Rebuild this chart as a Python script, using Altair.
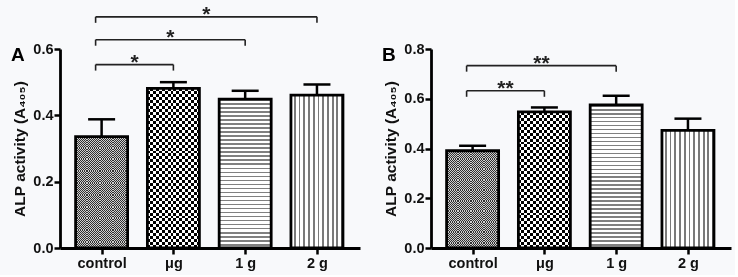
import altair as alt
import pandas as pd

# ---------------- data ----------------
cats = ["control", "μg", "1 g", "2 g"]
a_mean = [0.336, 0.481, 0.449, 0.461]
a_upper = [0.388, 0.500, 0.474, 0.493]
b_mean = [0.391, 0.547, 0.575, 0.473]
b_upper = [0.411, 0.565, 0.612, 0.520]

# significance brackets: (from index, to index, level, label)
a_from = [0, 0, 0]
a_to = [1, 2, 3]
a_level = [0.553, 0.628, 0.697]
a_star = ["*", "*", "*"]
b_from = [0, 0]
b_to = [1, 2]
b_level = [0.632, 0.733]
b_star = ["**", "**"]

FONT = "Liberation Sans"
PW, PH = 300, 199
BAR_W = 52
BG = "#f8f9fb"


def stripes(n, c1, c2, horizontal, frac=0.5):
    stops = []
    for i in range(n):
        a = i / n
        b = (i + frac) / n
        c = (i + 1) / n
        stops += [alt.GradientStop(offset=a, color=c1), alt.GradientStop(offset=b, color=c1),
                  alt.GradientStop(offset=b, color=c2), alt.GradientStop(offset=c, color=c2)]
    if horizontal:
        return alt.LinearGradient(gradient="linear", stops=stops, x1=0, x2=0, y1=0, y2=1)
    return alt.LinearGradient(gradient="linear", stops=stops, x1=0, x2=1, y1=0, y2=0)


def panel(means, uppers, bfrom, bto, blevel, bstar, ymax, letter):
    df = pd.DataFrame({"idx": list(range(len(cats))), "cat": cats, "mean": means, "upper": uppers})
    br = pd.DataFrame({"x1": bfrom, "x2": bto, "level": blevel, "star": bstar})
    xs = alt.Scale(domain=[-0.51, 3.53], nice=False, zero=False)
    ys = alt.Scale(domain=[0, ymax], nice=False)
    label_expr = "[" + ",".join("'" + c + "'" for c in cats) + "][datum.value]"
    xax = alt.Axis(values=list(range(len(cats))), labelExpr=label_expr, title=None, grid=False,
                   domainColor="black", domainWidth=2.8, tickColor="black", tickWidth=2.5,
                   tickSize=6, labelFont=FONT, labelFontWeight="bold", labelFontSize=14.5,
                   labelColor="#111111", labelPadding=2)
    yax = alt.Axis(values=[round(v * 0.2, 1) for v in range(int(round(ymax / 0.2)) + 1)],
                   format=".1f", title="ALP activity (A₄₀₅)", grid=False,
                   domainColor="black", domainWidth=2.8, tickColor="black", tickWidth=2.5,
                   tickSize=6, labelFont=FONT, labelFontWeight="bold", labelFontSize=14.5,
                   labelColor="#111111", labelPadding=1, titleFont=FONT, titleFontWeight="bold",
                   titleFontSize=15.5, titleColor="#111111", titlePadding=5)

    def XF(f):
        return alt.X(f, scale=xs, axis=xax)

    def YF(f):
        return alt.Y(f, scale=ys, axis=yax)

    base = alt.Chart(df)
    X = XF("idx:Q")
    Y = YF("mean:Q")

    def hpx(v):
        return v / ymax * PH

    layers = []
    # control: fine checker (dark / light grey) via two stripe layers and difference blend
    n_c = max(1, round(hpx(means[0]) / 2.2))
    layers.append(base.transform_filter(alt.datum.idx == 0)
                  .mark_bar(width=BAR_W, fill=stripes(n_c, "#303030", "#cfcfcf", True))
                  .encode(x=X, y=Y))
    layers.append(base.transform_filter(alt.datum.idx == 0)
                  .mark_bar(width=BAR_W, fill=stripes(24, "white", "black", False), blend="difference")
                  .encode(x=X, y=Y))
    # ug: coarse checker via two stripe layers and difference blend
    n_h = max(1, round(hpx(means[1]) / 6))
    layers.append(base.transform_filter(alt.datum.idx == 1)
                  .mark_bar(width=BAR_W, fill=stripes(n_h, "black", "white", True))
                  .encode(x=X, y=Y))
    layers.append(base.transform_filter(alt.datum.idx == 1)
                  .mark_bar(width=BAR_W, fill=stripes(9, "white", "black", False), blend="difference")
                  .encode(x=X, y=Y))
    # 1 g: horizontal stripes
    n_h2 = max(1, round(hpx(means[2]) / 4))
    layers.append(base.transform_filter(alt.datum.idx == 2)
                  .mark_bar(width=BAR_W, fill=stripes(n_h2, "#808080", "white", True, 0.4))
                  .encode(x=X, y=Y))
    # 2 g: vertical stripes
    layers.append(base.transform_filter(alt.datum.idx == 3)
                  .mark_bar(width=BAR_W, fill=stripes(11, "white", "#7a7a7a", False, 0.62))
                  .encode(x=X, y=Y))
    # outline
    layers.append(base.mark_bar(width=BAR_W, fill="transparent", stroke="black", strokeWidth=2.8)
                  .encode(x=X, y=Y))
    # error bars
    layers.append(base.mark_rule(color="black", strokeWidth=2.5)
                  .encode(x=X, y=Y, y2="upper:Q"))
    layers.append(base.mark_rule(color="black", strokeWidth=2.5, xOffset=-13.5, x2Offset=13.5)
                  .encode(x=X, x2="idx:Q", y=YF("upper:Q")))
    # brackets
    bb = alt.Chart(br)
    layers.append(bb.mark_rule(color="#222222", strokeWidth=1.6, xOffset=-6)
                  .encode(x=XF("x1:Q"), x2="x2:Q", y=YF("level:Q")))
    layers.append(bb.mark_rule(color="#222222", strokeWidth=1.6, xOffset=-6, y2Offset=6)
                  .encode(x=XF("x1:Q"), y=YF("level:Q"), y2="level:Q"))
    layers.append(bb.mark_rule(color="#222222", strokeWidth=1.6, y2Offset=6)
                  .encode(x=XF("x2:Q"), y=YF("level:Q"), y2="level:Q"))
    layers.append(bb.transform_calculate(mid="(datum.x1 + datum.x2) / 2")
                  .mark_text(font=FONT, fontSize=21, fontWeight="bold", color="#222222",
                             baseline="alphabetic", align="center", dy=4, dx=-3)
                  .encode(x=XF("mid:Q"), y=YF("level:Q"), text="star:N"))
    # panel letter
    layers.append(alt.Chart(pd.DataFrame({"t": [letter]}))
                  .mark_text(font=FONT, fontSize=19, fontWeight="bold", color="black",
                             align="left", baseline="alphabetic")
                  .encode(x=alt.value(-49), y=alt.value(12), text="t:N"))
    return alt.layer(*layers).properties(width=PW, height=PH)


pa = panel(a_mean, a_upper, a_from, a_to, a_level, a_star, 0.6, "A")
pb = panel(b_mean, b_upper, b_from, b_to, b_level, b_star, 0.8, "B")

chart = (alt.hconcat(pa, pb, spacing=22)
         .properties(background=BG, padding={"left": 11, "top": 3, "right": 4, "bottom": 5})
         .configure_view(stroke=None)
         .resolve_scale(x="independent", y="independent"))

chart.save("out.html", embed_options={"renderer": "svg", "actions": False})
